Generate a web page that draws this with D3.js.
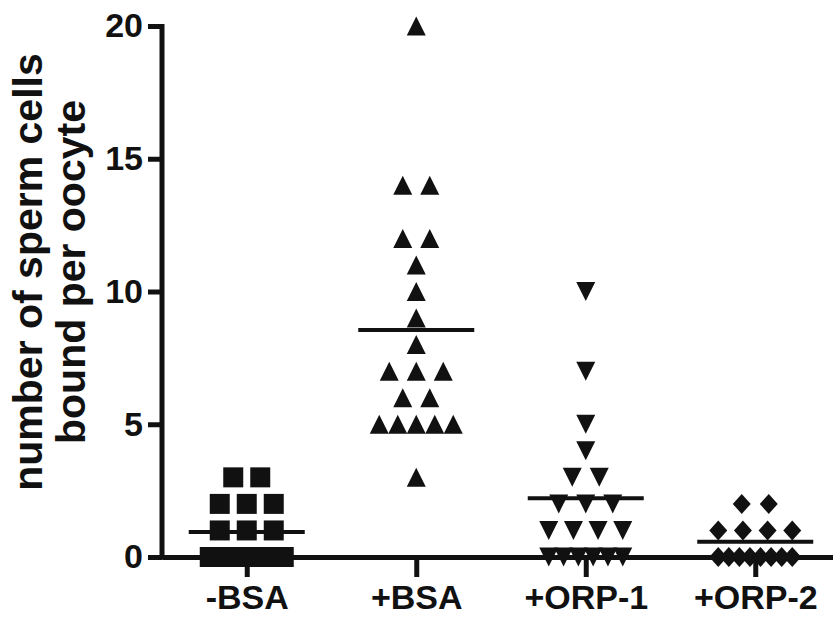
<!DOCTYPE html>
<html>
<head>
<meta charset="utf-8">
<script src="https://cdn.jsdelivr.net/npm/d3@7"></script>
<style>
    body { margin: 0; background: #fff; }
    text { font-family: Arial, "Liberation Sans", Helvetica, sans-serif; font-weight: bold; fill: #111; }
</style>
</head>
<body>
<div id="chart"></div>
<script>
// values (sperm cells bound per oocyte)
var categories = ["-BSA", "+BSA", "+ORP-1", "+ORP-2"];
var minusBSA = [3, 3, 2, 2, 2, 1, 1, 1, 0, 0, 0, 0, 0, 0, 0, 0];
var plusBSA = [20, 14, 14, 12, 12, 11, 10, 9, 8, 7, 7, 7, 6, 6, 5, 5, 5, 5, 5, 3];
var plusORP1 = [10, 7, 5, 4, 3, 3, 2, 2, 2, 1, 1, 1, 1, 0, 0, 0, 0, 0, 0];
var plusORP2 = [2, 2, 1, 1, 1, 1, 0, 0, 0, 0, 0, 0, 0, 0];
var yTicks = [0, 5, 10, 15, 20];
var yLabel = ["number of sperm cells", "bound per oocyte"];

var series = [minusBSA, plusBSA, plusORP1, plusORP2];
var shapes = ["square", "up", "down", "diamond"];

var chartSize = {width: 833, height: 620};

var svg = d3.select("#chart")
    .append("svg")
    .attr("width", chartSize.width)
    .attr("height", chartSize.height);

var xScale = d3.scalePoint()
    .domain(categories)
    .range([162, 840])
    .padding(0.5);

var yScale = d3.scaleLinear()
    .domain([0, 20])
    .range([557, 26]);

// symbol outlines, centred on 0,0
function symbolPath(shape, w, h) {
    if (shape == "square") return "M" + (-w / 2) + "," + (-h / 2) + "h" + w + "v" + h + "h" + (-w) + "Z";
    if (shape == "up") return "M0," + (-h / 2) + "L" + (w / 2) + "," + (h / 2) + "L" + (-w / 2) + "," + (h / 2) + "Z";
    if (shape == "down") return "M0," + (h / 2) + "L" + (w / 2) + "," + (-h / 2) + "L" + (-w / 2) + "," + (-h / 2) + "Z";
    return "M0," + (-h / 2) + "L" + (w / 2) + ",0L0," + (h / 2) + "L" + (-w / 2) + ",0Z";
}
var symbolSize = {square: [20, 20], up: [19, 19], down: [19, 19], diamond: [18, 20]};

// spread tied values sideways like a column scatter
function spread(values) {
    var out = [];
    d3.groups(values, function(v) { return v; }).forEach(function(g) {
        var k = g[1].length,
            step = k > 1 ? Math.min(27, 74 / (k - 1)) : 0;
        g[1].forEach(function(v, i) {
            out.push({value: v, dx: (i - (k - 1) / 2) * step});
        });
    });
    return out;
}

// axes
var yAxis = d3.axisLeft(yScale).tickValues(yTicks).tickSize(14).tickSizeOuter(0).tickPadding(5);
var gy = svg.append("g")
    .attr("transform", "translate(162,0)")
    .call(yAxis);

var xAxis = d3.axisBottom(xScale).tickSize(20).tickSizeOuter(0).tickPadding(8);
var gx = svg.append("g")
    .attr("transform", "translate(0,557)")
    .call(xAxis);

svg.selectAll(".domain").attr("stroke", "#111").attr("stroke-width", 5);
svg.selectAll(".tick line").attr("stroke", "#111").attr("stroke-width", 5);
gy.select(".domain").attr("d", "M0,24V559.5");
gy.selectAll(".tick text").attr("font-size", 34).attr("fill", "#111");
gx.selectAll(".tick text").attr("font-size", 34).attr("fill", "#111");

// points and means
series.forEach(function(values, i) {
    var cx = xScale(categories[i]),
        shape = shapes[i],
        sz = symbolSize[shape];

    svg.append("g").selectAll("path")
        .data(spread(values))
        .enter().append("path")
        .attr("d", symbolPath(shape, sz[0], sz[1]))
        .attr("transform", function(d) { return "translate(" + (cx + d.dx) + "," + yScale(d.value) + ")"; })
        .attr("fill", "#111");

    var m = d3.mean(values);
    svg.append("line")
        .attr("x1", cx - 58)
        .attr("x2", cx + 58)
        .attr("y1", yScale(m))
        .attr("y2", yScale(m))
        .attr("stroke", "#111")
        .attr("stroke-width", 4);
});

// y axis title, two lines
svg.append("text")
    .attr("transform", "translate(0,272) rotate(-90)")
    .attr("text-anchor", "middle")
    .attr("font-size", 41)
    .selectAll("tspan")
    .data(yLabel)
    .enter().append("tspan")
    .attr("x", 0)
    .attr("y", function(d, i) { return 42 + i * 43; })
    .text(function(d) { return d; });
</script>
</body>
</html>
